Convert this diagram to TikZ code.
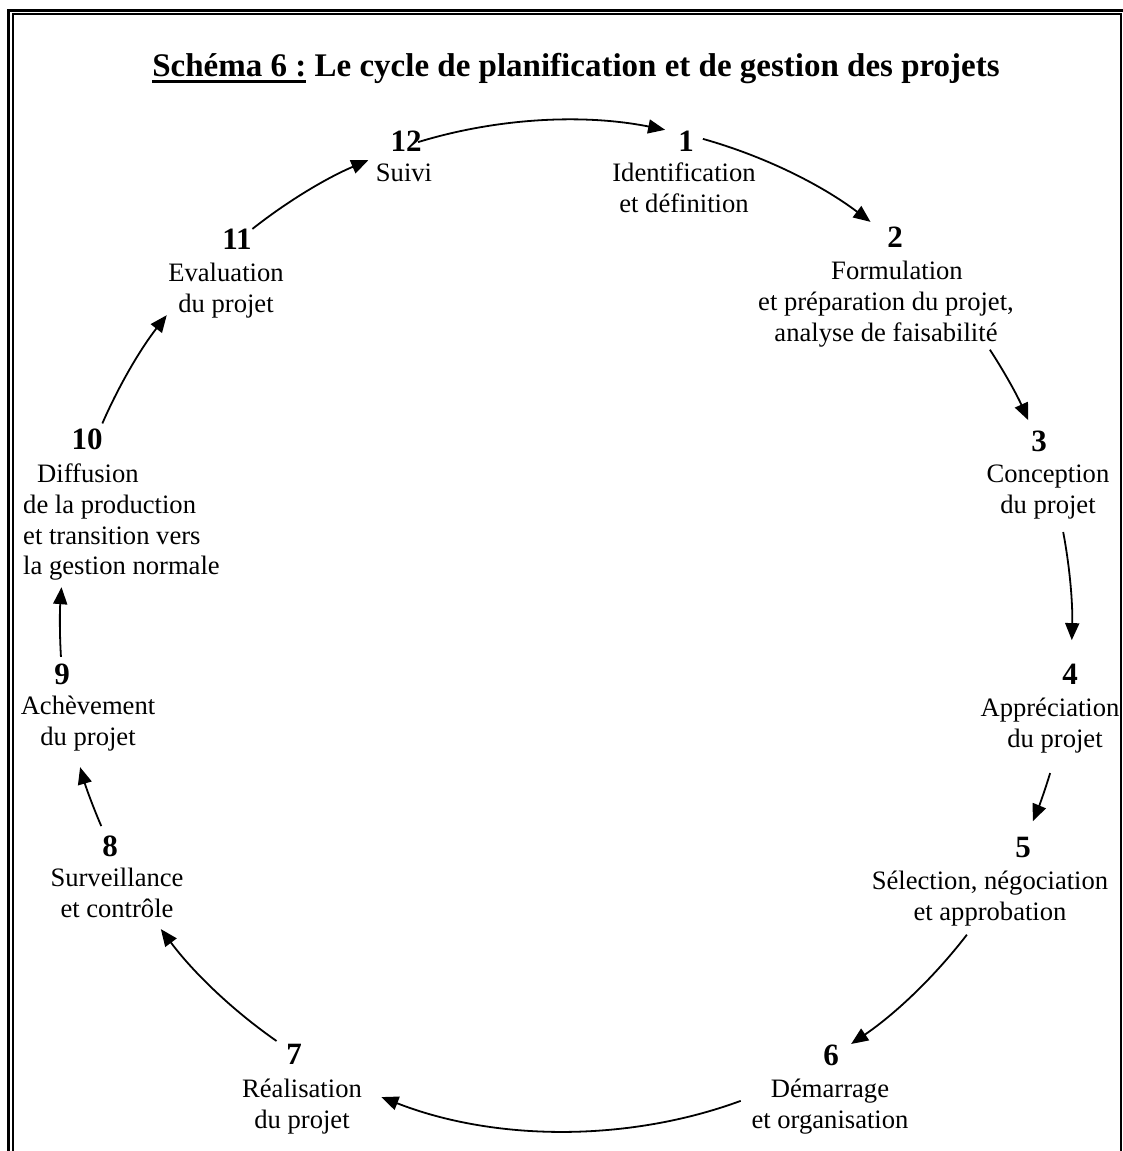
\documentclass[tikz,border=0pt]{standalone}
\usepackage{fontspec}
\setmainfont{Liberation Serif}
\usetikzlibrary{arrows.meta}

% type sizes
\newcommand\bodysize{\fontsize{26.6}{30.6}\selectfont}
\newcommand\numsize{\fontsize{31}{35}\selectfont\bfseries}
\newcommand\titlesize{\fontsize{33}{38}\selectfont\bfseries}
% thick underline for the heading
\newcommand\ulbox[1]{\setbox0\hbox{#1}\rlap{\rule[-5.8pt]{\wd0}{2.6pt}}\box0\relax}
% centred stack of lines, baseline on the first line
\newcommand\cstack[1]{\begin{tabular}[t]{@{}c@{}}#1\end{tabular}}
\newcommand\lstack[1]{\begin{tabular}[t]{@{}l@{}}#1\end{tabular}}

\begin{document}
\begin{tikzpicture}[x=1pt,y=1pt,
  num/.style={font=\numsize, inner sep=0pt, anchor=base},
  lbl/.style={font=\bodysize, inner sep=0pt, anchor=base},
  link/.style={line width=1.8pt, -{Triangle[length=17pt,width=14pt]}, looseness=0.86},
  framethick/.style={line width=3pt},
  framethin/.style={line width=1.5pt}]

\useasboundingbox (0,0) rectangle (1123,1151);
\fill[white] (0,0) rectangle (1123,1151);

% double frame
\draw[framethick] (8.8,-40) -- (8.8,1140.7) -- (1160,1140.7);
\draw[framethin] (13.2,-40) -- (13.2,1136.8) -- (1121,1136.8);
\draw[line width=2.6pt] (1121,1137.5) -- (1121,-40);

% heading
\node[font=\titlesize, inner sep=0pt, anchor=base] (title) at (576,1074)
  {\ulbox{Schéma 6 :} Le cycle de planification et de gestion des projets};

% step numbers
\node[num] (n1)  at (686,999) {1};
\node[num] (n2)  at (895,903) {2};
\node[num] (n3)  at (1039,699) {3};
\node[num] (n4)  at (1070,466) {4};
\node[num] (n5)  at (1023,293) {5};
\node[num] (n6)  at (831,85) {6};
\node[num] (n7)  at (294,86) {7};
\node[num] (n8)  at (110,294) {8};
\node[num] (n9)  at (62,466) {9};
\node[num] (n10) at (87,701) {10};
\node[num] (n11) at (237,901) {11};
\node[num] (n12) at (406,999) {12};

% step labels
\node[lbl] (t1)  at (684,969) {\cstack{Identification\\et définition}};
\node[lbl] (t2)  at (886,871) {\cstack{\hspace*{22pt}Formulation\\et préparation du projet,\\analyse de faisabilité}};
\node[lbl] (t3)  at (1048,668) {\cstack{Conception\\du projet}};
\node[lbl] (t4)  at (1050,434) {\cstack{Appréciation\\\hspace*{10pt}du projet}};
\node[lbl] (t5)  at (990,261) {\cstack{Sélection, négociation\\et approbation}};
\node[lbl] (t6)  at (830,53) {\cstack{Démarrage\\et organisation}};
\node[lbl] (t7)  at (302,53) {\cstack{Réalisation\\du projet}};
\node[lbl] (t8)  at (117,264) {\cstack{Surveillance\\et contrôle}};
\node[lbl] (t9)  at (88,436) {\cstack{Achèvement\\du projet}};
\node[lbl, anchor=base west] (t10) at (23,668)
  {\lstack{\hspace*{14pt}Diffusion\\de la production\\et transition vers\\la gestion normale}};
\node[lbl] (t11) at (226,869) {\cstack{Evaluation\\du projet}};
\node[lbl] (t12) at (404,969) {\cstack{Suivi}};

% the cycle: every connector lies on one circle
\coordinate (C) at (566,525);
\path (C) ++(107.0:506) coordinate (s12) (C) ++(78.7:506)   coordinate (e12);
\path (C) ++(74.3:506)  coordinate (s1)  (C) ++(53.0:506)   coordinate (e1);
\path (C) ++(33.1:506)  coordinate (s2)  (C) ++(24.0:506)   coordinate (e2);
\path (C) ++(10.7:506)  coordinate (s3)  (C) ++(-1.6:506)   coordinate (e3);
\path (C) ++(-16.9:506) coordinate (s4)  (C) ++(-22.7:506)  coordinate (e4);
\path (C) ++(-37.6:506) coordinate (s5)  (C) ++(-55.7:506)  coordinate (e5);
\path (C) ++(-69.8:506) coordinate (s6)  (C) ++(-111.4:506) coordinate (e6);
\path (C) ++(-124.9:506) coordinate (s7) (C) ++(-143.2:506) coordinate (e7);
\path (C) ++(203.3:506) coordinate (s8)  (C) ++(196.2:506)  coordinate (e8);
\path (C) ++(183.5:506) coordinate (s9)  (C) ++(175.6:506)  coordinate (e9);
\path (C) ++(156.4:506) coordinate (s10) (C) ++(142.1:506)  coordinate (e10);
\path (C) ++(128.3:506) coordinate (s11) (C) ++(113.0:506)  coordinate (e11);

\draw[link] (s12) to[out=17.0,  in=168.7] (e12);
\draw[link] (s1)  to[out=-15.7, in=143.0] (e1);
\draw[link] (s2)  to[out=-56.9, in=114.0] (e2);
\draw[link] (s3)  to[out=-79.3, in=88.4]  (e3);
\draw[link] (s4)  to[out=-106.9,in=67.3]  (e4);
\draw[link] (s5)  to[out=-127.6,in=34.3]  (e5);
\draw[link] (s6)  to[out=-159.8,in=-21.4] (e6);
\draw[link] (s7)  to[out=145.1, in=-53.2] (e7);
\draw[link] (s8)  to[out=113.3, in=-73.8] (e8);
\draw[link] (s9)  to[out=93.5,  in=-94.4] (e9);
\draw[link] (s10) to[out=66.4,  in=-127.9] (e10);
\draw[link] (s11) to[out=38.3,  in=-157.0] (e11);
\end{tikzpicture}
\end{document}
